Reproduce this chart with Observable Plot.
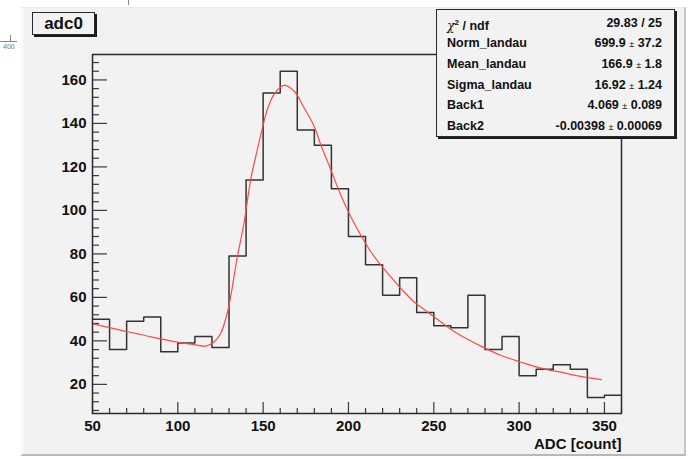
<!DOCTYPE html>
<html>
<head>
<meta charset="utf-8">
<script src="https://cdn.jsdelivr.net/npm/d3@7"></script>
<script src="https://cdn.jsdelivr.net/npm/@observablehq/plot@0.6"></script>
<style>
  body { margin: 0; background: #fff; font-family: "Liberation Sans", Arial, sans-serif; }
  #wrap { position: relative; width: 693px; height: 459px; overflow: hidden; background: #fff; }
  #pad { position: absolute; left: 20px; top: 7px; width: 661px; height: 446px; background: #f2f2f2;
         border-left: 3px solid #fbfbfb; border-top: 1px solid #e8e8e8;
         border-right: 2px solid #c6c6c6; border-bottom: 2px solid #b8b8b8; }
  #chart { position: absolute; left: 0; top: 0; }
  .box { position: absolute; background: #f2f2f2; border: 1px solid #2a2a2a; box-shadow: 2px 2px 0 #1a1a1a; font-weight: bold; color: #111; }
  #title { left: 32px; top: 12px; width: 61px; height: 21px; font-size: 17px; line-height: 21px; text-align: center; }
  #stats { left: 436px; top: 9px; width: 237px; height: 126px; font-size: 12.5px; }
  .row { position: absolute; left: 10px; right: 12px; height: 14px; line-height: 14px; }
  .row .k { position: absolute; left: 0; }
  .row .v { position: absolute; right: 0; }
  .pm { font-size: 9px; font-weight: normal; }
  .frag { position: absolute; color: #777; font-size: 7px; }
</style>
</head>
<body>
<div id="wrap">
  <div class="frag" style="left:128px;top:0;width:1px;height:5px;background:#888"></div>
  <div class="frag" style="left:0;top:41px;width:17px;height:1px;background:#888"></div>
  <div class="frag" style="left:10px;top:35px;width:1px;height:6px;background:#888"></div>
  <div class="frag" style="left:3px;top:43px;">400</div>
  <div id="pad"></div>
  <div id="chart"></div>
  <div class="box" id="title"></div>
  <div class="box" id="stats"></div>
</div>
<script>
// Histogram "adc0": lower bin edges (plus the last upper edge) and counts per 10-count bin
const binEdges = [50, 60, 70, 80, 90, 100, 110, 120, 130, 140, 150, 160, 170, 180, 190, 200,
                  210, 220, 230, 240, 250, 260, 270, 280, 290, 300, 310, 320, 330, 340, 350, 360];
const counts = [50, 36, 49, 51, 35, 39, 42, 37, 79, 114, 154, 164, 137, 130, 110, 88,
                75, 61, 69, 53, 47, 46, 61, 36, 42, 24, 27, 29, 27, 14, 15];

// Fitted landau + exponential background, sampled along the drawn curve
const fitX = [50.9, 60.7, 70.5, 80.2, 90, 99.8, 109.5, 116.4, 121.2, 125.1, 129.4, 134.9, 138.8,
              142.7, 146.6, 149.6, 152.5, 156.4, 162.2, 168.1, 173.9, 179.8, 183.7, 189.6, 195.4,
              201.3, 207.1, 213, 218.9, 224.7, 230.6, 238.4, 246.2, 254, 263.8, 279.4, 289.1,
              300.8, 312.6, 324.3, 336, 348.3];
const fitY = [47.7, 46.0, 44.2, 42.6, 40.9, 39.4, 38.3, 37.6, 39.5, 43.4, 54.2, 78.8, 94.2,
              114.2, 128, 138, 146.5, 153.4, 157.5, 154.9, 147.3, 138.8, 130.3, 118.8, 107.2,
              97.2, 88.8, 81.1, 74.9, 69.5, 64.2, 58, 53.4, 48.8, 43.4, 36.9, 33.4,
              30.3, 27.5, 25.6, 23.7, 22.2];

// Axis ticks and labels
const xMajor = [50, 100, 150, 200, 250, 300, 350];
const xMinor = [60, 70, 80, 90, 110, 120, 130, 140, 160, 170, 180, 190, 210, 220, 230, 240,
                260, 270, 280, 290, 310, 320, 330, 340, 360];
const yMajor = [20, 40, 60, 80, 100, 120, 140, 160];
const yMinor = [8, 12, 16, 24, 28, 32, 36, 44, 48, 52, 56, 64, 68, 72, 76, 84, 88, 92, 96,
                104, 108, 112, 116, 124, 128, 132, 136, 144, 148, 152, 156, 164, 168];
const xTitle = "ADC [count]";
const histName = "adc0";

// Fit statistics box
const statNames = ["Norm_landau", "Mean_landau", "Sigma_landau", "Back1", "Back2"];
const statValues = ["699.9", "166.9", "16.92", "4.069", "-0.00398"];
const statErrors = ["37.2", "1.8", "1.24", "0.089", "0.00069"];
const chi2 = "29.83", ndf = "25";

const W = 693, H = 459, mL = 92, mR = 72, mT = 54, mB = 46;
const PW = W - mL - mR, PH = H - mT - mB;

const steps = binEdges.map((x, i) => ({x, y: counts[Math.min(i, counts.length - 1)]}));
const fit = fitX.map((x, i) => ({x, y: fitY[i]}));

const plot = Plot.plot({
  width: W, height: H,
  marginLeft: mL, marginRight: mR, marginTop: mT, marginBottom: mB,
  x: {domain: [50, 360]},
  y: {domain: [6.6, 171.7]},
  style: {background: "transparent", fontFamily: "'Liberation Sans', Arial, sans-serif",
          fontWeight: "bold", fontSize: "15px", color: "#111"},
  marks: [
    Plot.ruleY(yMinor, {y: d => d, insetRight: PW - 7, stroke: "#3a3a3a", strokeWidth: 1.2}),
    Plot.ruleY(yMajor, {y: d => d, insetRight: PW - 15, stroke: "#3a3a3a", strokeWidth: 1.2}),
    Plot.ruleX(xMinor, {x: d => d, insetTop: PH - 5, stroke: "#3a3a3a", strokeWidth: 1.2}),
    Plot.ruleX(xMajor, {x: d => d, insetTop: PH - 11, stroke: "#3a3a3a", strokeWidth: 1.2}),
    Plot.lineY(steps, {x: "x", y: "y", curve: "step-after", stroke: "#333", strokeWidth: 1.5}),
    Plot.line(fit, {x: "x", y: "y", curve: "catmull-rom", stroke: "#ff4a4a", strokeWidth: 1.2}),
    Plot.frame({stroke: "#2a2a2a", strokeWidth: 1.5}),
    Plot.axisY(yMajor, {tickSize: 0, tickPadding: 6, label: null, fill: "#111"}),
    Plot.axisX(xMajor, {tickSize: 0, tickPadding: 7, label: null, fill: "#111"}),
    Plot.text([xTitle], {text: d => d, frameAnchor: "bottom-right", dy: 35, textAnchor: "end",
                         fill: "#111", fontSize: 15, fontWeight: "bold"})
  ]
});
document.getElementById("chart").append(plot);

document.getElementById("title").textContent = histName;

const stats = document.getElementById("stats");
const rowTop = (i) => 5.5 + i * 20.7;
let html = `<div class="row" style="top:${rowTop(0)}px"><span class="k"><i style="font-family:'DejaVu Serif',serif;font-weight:normal">χ</i><sup style="font-size:8px">2</sup> / ndf</span><span class="v">${chi2} / ${ndf}</span></div>`;
statNames.forEach((n, i) => {
  html += `<div class="row" style="top:${rowTop(i + 1)}px"><span class="k">${n}</span><span class="v">${statValues[i]} <span class="pm">±</span> ${statErrors[i]}</span></div>`;
});
stats.innerHTML = html;
</script>
</body>
</html>
